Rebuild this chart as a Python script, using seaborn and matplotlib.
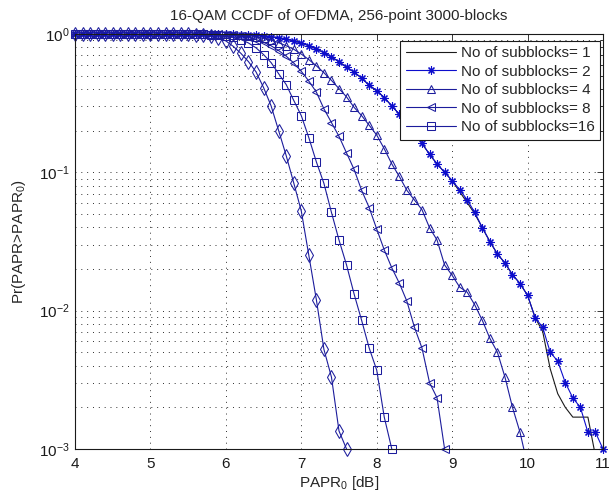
import matplotlib
matplotlib.use("Agg")
import numpy as np
import pandas as pd
import seaborn as sns
import matplotlib.pyplot as plt
from matplotlib.lines import Line2D
from matplotlib.ticker import LogLocator, FixedLocator, NullFormatter

# ---------------- data ----------------
papr_db = [4.0, 4.1, 4.2, 4.3, 4.4, 4.5, 4.6, 4.7, 4.8, 4.9,
           5.0, 5.1, 5.2, 5.3, 5.4, 5.5, 5.6, 5.7, 5.8, 5.9,
           6.0, 6.1, 6.2, 6.3, 6.4, 6.5, 6.6, 6.7, 6.8, 6.9,
           7.0, 7.1, 7.2, 7.3, 7.4, 7.5, 7.6, 7.7, 7.8, 7.9,
           8.0, 8.1, 8.2, 8.3, 8.4, 8.5, 8.6, 8.7, 8.8, 8.9,
           9.0, 9.1, 9.2, 9.3, 9.4, 9.5, 9.6, 9.7, 9.8, 9.9,
           10.0, 10.1, 10.2, 10.3, 10.4, 10.5, 10.6, 10.7, 10.8, 10.9,
           11.0]

ccdf_sb1 = [1.0, 1.0, 1.0, 1.0, 1.0, 1.0, 1.0, 1.0, 1.0, 1.0,
            1.0, 1.0, 1.0, 1.0, 1.0, 1.0, 1.0, 1.0, 1.0, 1.0,
            0.998, 0.995, 0.991, 0.986, 0.979, 0.971, 0.957, 0.940, 0.918, 0.891,
            0.861, 0.822, 0.780, 0.733, 0.682, 0.631, 0.575, 0.531, 0.479, 0.427,
            0.389, 0.347, 0.302, 0.263, 0.229, 0.195, 0.162, 0.135, 0.115, 0.100,
            0.0871, 0.0724, 0.0603, 0.0501, 0.0398, 0.0316, 0.0257, 0.0221, 0.0182, 0.0157,
            0.0129, 0.00891, 0.00708, 0.00380, 0.00251, 0.00200, 0.00170, 0.00170, 0.00170, 0.00089]

ccdf_sb2 = [1.0, 1.0, 1.0, 1.0, 1.0, 1.0, 1.0, 1.0, 1.0, 1.0,
            1.0, 1.0, 1.0, 1.0, 1.0, 1.0, 1.0, 1.0, 1.0, 1.0,
            0.998, 0.995, 0.991, 0.986, 0.979, 0.971, 0.957, 0.940, 0.918, 0.891,
            0.861, 0.822, 0.780, 0.733, 0.682, 0.631, 0.575, 0.531, 0.479, 0.427,
            0.389, 0.347, 0.302, 0.263, 0.229, 0.195, 0.162, 0.135, 0.115, 0.100,
            0.0871, 0.0750, 0.0631, 0.0513, 0.0398, 0.0316, 0.0257, 0.0221, 0.0182, 0.0157,
            0.0129, 0.00891, 0.00759, 0.00501, 0.00431, 0.00302, 0.00234, 0.00200, 0.00132, 0.00132,
            0.00100]

ccdf_sb4 = [1.0, 1.0, 1.0, 1.0, 1.0, 1.0, 1.0, 1.0, 1.0, 1.0,
            1.0, 1.0, 1.0, 1.0, 1.0, 1.0, 1.0, 1.0, 1.0, 1.0,
            0.995, 0.991, 0.984, 0.973, 0.955, 0.933, 0.902, 0.865, 0.822, 0.776,
            0.716, 0.653, 0.589, 0.525, 0.462, 0.403, 0.351, 0.295, 0.257, 0.219,
            0.186, 0.148, 0.115, 0.0933, 0.0741, 0.0631, 0.0537, 0.0398, 0.0324, 0.0214,
            0.0180, 0.0148, 0.0136, 0.0110, 0.00851, 0.00631, 0.00501, 0.00331, 0.00200, 0.00132,
            0.00076]

ccdf_sb8 = [1.0, 1.0, 1.0, 1.0, 1.0, 1.0, 1.0, 1.0, 1.0, 1.0,
            1.0, 1.0, 1.0, 1.0, 1.0, 1.0, 1.0, 1.0, 1.0, 1.0,
            0.991, 0.982, 0.966, 0.944, 0.912, 0.871, 0.822, 0.759, 0.692, 0.617,
            0.537, 0.457, 0.380, 0.288, 0.229, 0.182, 0.138, 0.105, 0.0741, 0.0556,
            0.0389, 0.0275, 0.0204, 0.0158, 0.0117, 0.00759, 0.00537, 0.00302, 0.00234, 0.00100]

ccdf_sb16 = [1.0, 1.0, 1.0, 1.0, 1.0, 1.0, 1.0, 1.0, 1.0, 1.0,
             1.0, 1.0, 1.0, 1.0, 1.0, 1.0, 1.0, 1.0, 0.991, 0.982,
             0.966, 0.944, 0.912, 0.861, 0.794, 0.710, 0.621, 0.516, 0.431, 0.331,
             0.257, 0.178, 0.119, 0.0832, 0.0513, 0.0324, 0.0214, 0.0132, 0.00851, 0.00537,
             0.00372, 0.00170, 0.00100]

ccdf_diamond = [1.0, 1.0, 1.0, 1.0, 1.0, 1.0, 1.0, 1.0, 1.0, 1.0,
                1.0, 1.0, 1.0, 1.0, 1.0, 1.0, 0.991, 0.982, 0.966, 0.933,
                0.891, 0.813, 0.724, 0.631, 0.532, 0.410, 0.302, 0.200, 0.132, 0.0838,
                0.0525, 0.0251, 0.0120, 0.00525, 0.00331, 0.00135, 0.00100]

legend_labels = ["No of subblocks= 1", "No of subblocks= 2", "No of subblocks= 4",
                 "No of subblocks= 8", "No of subblocks=16"]
x_ticks = [4, 5, 6, 7, 8, 9, 10, 11]
title_text = "16-QAM CCDF of OFDMA, 256-point 3000-blocks"

# ---------------- style ----------------
sns.set_theme(style="white")
plt.rcParams["font.family"] = ["Liberation Sans", "DejaVu Sans"]
plt.rcParams["mathtext.fontset"] = "custom"
plt.rcParams["mathtext.rm"] = "Liberation Sans"
plt.rcParams["mathtext.it"] = "Liberation Sans"
plt.rcParams["axes.unicode_minus"] = False

BLUE = "#1c1c9c"
STAR_BLUE = "#0d0dcc"

fig = plt.figure(figsize=(6.09, 4.94), dpi=100)
ax = fig.add_axes([75 / 609, 1 - 449 / 494, 528 / 609, 415 / 494])
ax.set_yscale("log")

series = [
    (ccdf_sb1, "k", None, 0, 0),
    (ccdf_sb2, STAR_BLUE, (8, 2, 0), 5.8, 0.8),
    (ccdf_sb4, BLUE, "^", 6.2, 0.75),
    (ccdf_sb8, BLUE, "<", 6.2, 0.75),
    (ccdf_sb16, BLUE, "s", 5.9, 0.75),
    (ccdf_diamond, BLUE, "d", 7.2, 0.75),
]

handles = []
for i, (vals, col, mk, ms, mew) in enumerate(series):
    df = pd.DataFrame({"papr": papr_db[:len(vals)], "ccdf": vals})
    sns.lineplot(data=df, x="papr", y="ccdf", ax=ax, color=col, lw=0.8,
                 sort=False, estimator=None, legend=False)
    if mk is not None:
        dm = df[df["ccdf"] >= 1e-3]
        sns.lineplot(data=dm, x="papr", y="ccdf", ax=ax, color=col, linestyle="",
                     marker=mk, markersize=ms, mfc="none", mec=col, mew=mew,
                     sort=False, estimator=None, legend=False, clip_on=False)
    if i < len(legend_labels):
        handles.append(Line2D([], [], color=col, lw=0.8, marker=mk if mk else None,
                              markersize=ms, mfc="none", mec=col, mew=mew))

ax.set_xlim(4, 11)
ax.set_ylim(1e-3, 1)
ax.xaxis.set_major_locator(FixedLocator(x_ticks))
ax.set_xticklabels([str(t) for t in x_ticks])
ax.yaxis.set_major_locator(LogLocator(base=10, numticks=10))
ax.yaxis.set_minor_locator(LogLocator(base=10, subs=np.arange(2, 10), numticks=20))
ax.yaxis.set_minor_formatter(NullFormatter())

grid_style = dict(linestyle=(0, (1, 5)), color="#303030", lw=0.7)
ax.grid(True, which="major", axis="x", **grid_style)
ax.grid(True, which="both", axis="y", **grid_style)
ax.set_axisbelow(True)

for sp in ax.spines.values():
    sp.set_color("k")
    sp.set_linewidth(0.8)
    sp.set_zorder(3)

ax.tick_params(which="both", direction="in", top=True, right=True, colors="k",
               labelsize=11, width=0.6)
ax.tick_params(which="major", length=4.5)
ax.tick_params(axis="x", which="major", pad=6)
ax.tick_params(axis="y", which="major", pad=4)
ax.tick_params(which="minor", length=2.5)
ax.tick_params(axis="x", which="minor", bottom=False, top=False)

ax.set_title(title_text, fontsize=11, pad=10)
ax.set_xlabel(r"PAPR$_\mathdefault{0}$ [dB]", fontsize=11, labelpad=2)
ax.set_ylabel(r"Pr(PAPR>PAPR$_\mathdefault{0}$)", fontsize=11, labelpad=8)

leg = ax.legend(handles, legend_labels, loc="upper right",
                bbox_to_anchor=(0.9938, 0.984), borderaxespad=0,
                fontsize=11, frameon=True, fancybox=False, framealpha=1,
                edgecolor="k", handlelength=3.3, handletextpad=0.3,
                borderpad=0.35, labelspacing=0.3, numpoints=1)
leg.get_frame().set_linewidth(0.8)
leg.set_zorder(10)

fig.savefig("out.png", dpi=100, facecolor="white")
